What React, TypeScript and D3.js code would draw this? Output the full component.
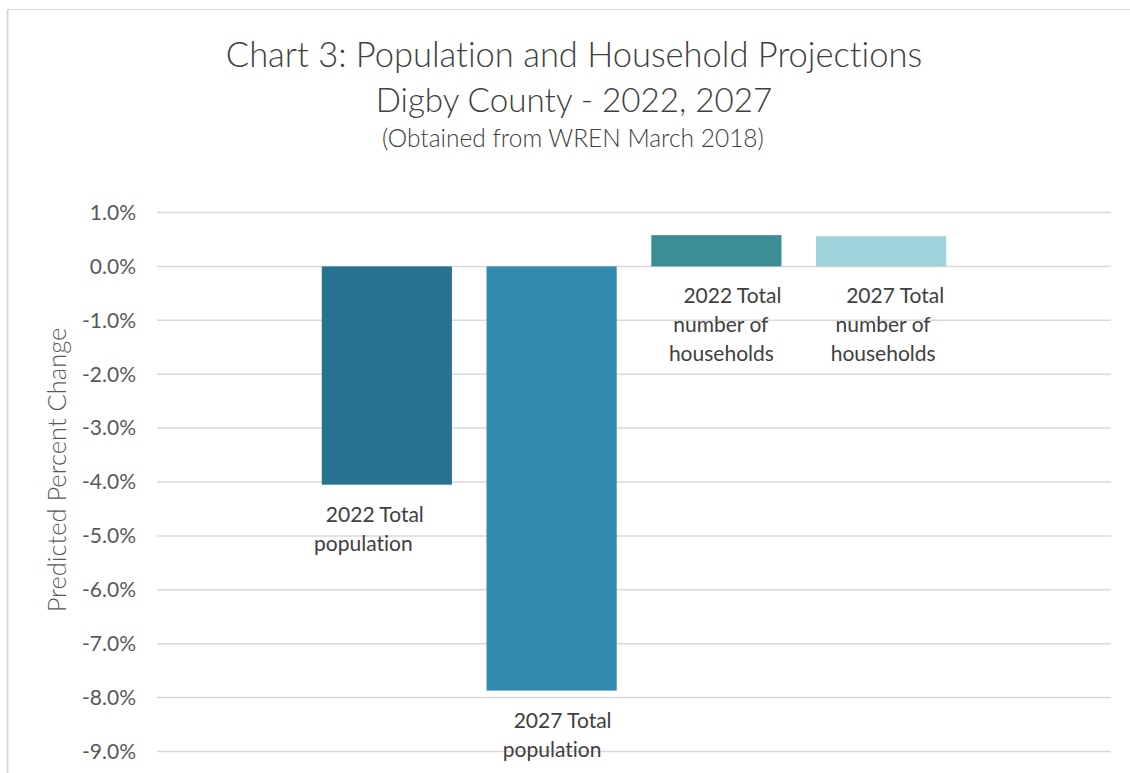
import React from "react";
import * as d3 from "d3";

// ---- data ----
const seriesNames = [
  "2022 Total population",
  "2027 Total population",
  "2022 Total number of households",
  "2027 Total number of households",
];
const seriesValues = [-4.05, -7.87, 0.58, 0.56]; // percent
const seriesColors = ["#28718F", "#2F8AAE", "#3B8D96", "#9DD3D9"];
const labelLines = [
  ["2022 Total", "population"],
  ["2027 Total", "population"],
  ["2022 Total", "number of", "households"],
  ["2027 Total", "number of", "households"],
];
const yTicks = [1, 0, -1, -2, -3, -4, -5, -6, -7, -8, -9];
const titleLines = ["Chart 3: Population and Household Projections", "Digby County - 2022, 2027"];
const subtitle = "(Obtained from WREN March 2018)";
const yAxisTitle = "Predicted Percent Change";

// ---- layout ----
const W = 1130;
const H = 773;
const plotLeft = 157;
const plotRight = 1111;
const yTop = 212.5;
const yBottom = 751.5;
// per-line horizontal nudges of the data labels (relative to bar centre)
const labelNudges = [
  [-12, -23.5],
  [11, 0.5],
  [16, 4.5, 5],
  [14, 2, 2],
];

const FONT = "Lato, 'Open Sans', 'Noto Sans', sans-serif";

export default function App() {
  const x = d3
    .scaleBand<string>()
    .domain(seriesNames)
    .range([plotLeft, plotRight])
    .paddingInner(0.21)
    .paddingOuter(1.0);
  const y = d3.scaleLinear().domain([-9, 1]).range([yBottom, yTop]);
  const fmt = (v: number) => d3.format(".1f")(v).replace("\u2212", "-") + "%";
  const bw = x.bandwidth();

  return (
    <svg
      width={W}
      height={H}
      style={{ position: "absolute", left: 0, top: 0, background: "#fff", fontVariantLigatures: "none" }}
      fontFamily={FONT}
    >
      <rect x={0} y={0} width={W} height={H} fill="#fff" />
      {/* chart border */}
      <line x1={7.5} y1={9.5} x2={W} y2={9.5} stroke="#d9d9d9" strokeWidth={1} />
      <line x1={7.5} y1={9.5} x2={7.5} y2={H} stroke="#d9d9d9" strokeWidth={2} />

      {/* titles */}
      <text x={574} y={66.5} textAnchor="middle" fontSize={34.5} fontWeight={300} fill="#404040">
        {titleLines[0]}
      </text>
      <text x={574} y={111.5} textAnchor="middle" fontSize={33.2} fontWeight={300} fill="#404040">
        {titleLines[1]}
      </text>
      <text x={573} y={146.5} textAnchor="middle" fontSize={24.5} fontWeight={300} fill="#404040">
        {subtitle}
      </text>

      {/* gridlines */}
      {yTicks.map((t) => (
        <line
          key={"g" + t}
          x1={plotLeft}
          x2={plotRight}
          y1={y(t)}
          y2={y(t)}
          stroke="#d9d9d9"
          strokeWidth={1.5}
        />
      ))}

      {/* tick labels */}
      {yTicks.map((t) => (
        <text
          key={"t" + t}
          x={136}
          y={y(t)}
          dy="0.35em"
          textAnchor="end"
          fontSize={21}
          fill="#595959"
        >
          {fmt(t)}
        </text>
      ))}

      {/* y axis title */}
      <text
        transform={`translate(66,470) rotate(-90)`}
        textAnchor="middle"
        fontSize={25.5}
        fontWeight={300}
        fill="#595959"
      >
        {yAxisTitle}
      </text>

      {/* bars */}
      {seriesNames.map((s, i) => {
        const v = seriesValues[i];
        const y0 = y(Math.max(0, v));
        const y1 = y(Math.min(0, v));
        return (
          <rect key={s} x={x(s)} y={y0} width={bw} height={y1 - y0} fill={seriesColors[i]} />
        );
      })}

      {/* data labels */}
      {seriesNames.map((s, i) => {
        const v = seriesValues[i];
        const cx = (x(s) as number) + bw / 2;
        const base = y(Math.min(0, v)) + 37;
        return (
          <g key={"l" + s}>
            {labelLines[i].map((ln, j) => (
              <text
                key={j}
                x={cx + labelNudges[i][j]}
                y={base + j * 29}
                textAnchor="middle"
                fontSize={21}
                fill="#404040"
              >
                {ln}
              </text>
            ))}
          </g>
        );
      })}
    </svg>
  );
}
